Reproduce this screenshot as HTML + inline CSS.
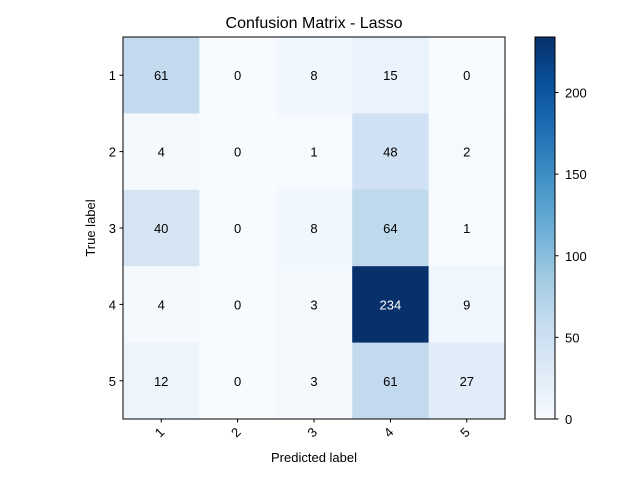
<!DOCTYPE html>
<html><head><meta charset="utf-8">
<style>
body{margin:0;background:#fff;}
svg text{font-family:"Liberation Sans","DejaVu Sans",sans-serif;}
</style></head>
<body>
<svg id="chart" width="640" height="480" xmlns="http://www.w3.org/2000/svg">
<defs>
<linearGradient id="blues" x1="0" y1="1" x2="0" y2="0">
<stop offset="0" stop-color="#f7fbff"/><stop offset="0.125" stop-color="#deebf7"/>
<stop offset="0.25" stop-color="#c6dbef"/><stop offset="0.375" stop-color="#9ecae1"/>
<stop offset="0.5" stop-color="#6baed6"/><stop offset="0.625" stop-color="#4292c6"/>
<stop offset="0.75" stop-color="#2171b5"/><stop offset="0.875" stop-color="#08519c"/>
<stop offset="1" stop-color="#08306b"/>
</linearGradient>
</defs>
<text x="314" y="28" font-size="16" text-anchor="middle">Confusion Matrix - Lasso</text>
<g id="cells"></g>
<rect x="123" y="37" width="382" height="382" fill="none" stroke="#000" stroke-width="1"/>
<g id="axes"></g>
<text x="314" y="462" font-size="13" text-anchor="middle">Predicted label</text>
<text x="95" y="228" font-size="13" text-anchor="middle" transform="rotate(-90 95 228)">True label</text>
<rect x="535" y="37" width="20" height="382" fill="url(#blues)" stroke="#000" stroke-width="1"/>
<g id="cbar"></g>
</svg>
<script>
const labels = ["1","2","3","4","5"];
const matrix = [
 [61,0,8,15,0],
 [4,0,1,48,2],
 [40,0,8,64,1],
 [4,0,3,234,9],
 [12,0,3,61,27]
];
const cbarTicks = [0,50,100,150,200];
const NS="http://www.w3.org/2000/svg";
const X0=123,Y0=37,W=382,H=382;
const n=labels.length, cw=W/n, ch=H/n;
const vmax=Math.max(...matrix.flat()), vmin=Math.min(...matrix.flat());
const stops=["#f7fbff","#deebf7","#c6dbef","#9ecae1","#6baed6","#4292c6","#2171b5","#08519c","#08306b"].map(h=>[1,3,5].map(i=>parseInt(h.substr(i,2),16)));
function cmap(v){let t=(v-vmin)/(vmax-vmin)*8;let i=Math.min(7,Math.floor(t));let f=t-i;
 const c=stops[i].map((a,k)=>Math.round(a+(stops[i+1][k]-a)*f));return `rgb(${c})`;}
function xs(j){return X0+j*cw;} function ys(i){return Y0+i*ch;}
function mk(tag,attrs,parent){const e=document.createElementNS(NS,tag);for(const k in attrs)e.setAttribute(k,attrs[k]);parent.appendChild(e);return e;}
const cells=document.getElementById('cells');
matrix.forEach((row,i)=>row.forEach((v,j)=>{
 const r=mk('rect',{x:xs(j),y:ys(i),width:cw+0.5,height:ch+0.5,fill:cmap(v)},cells);
 
 
 const t=mk('text',{x:xs(j)+cw/2,y:ys(i)+ch/2+5,'font-size':13,'text-anchor':'middle',fill:v>(vmax/2)?'#fff':'#000'},cells);
 t.textContent=v;
 
 
}));
const axes=document.getElementById('axes');
labels.forEach((l,k)=>{
 const cy=ys(k)+ch/2, cx=xs(k)+cw/2;
 mk('line',{x1:X0-3.5,x2:X0,y1:cy,y2:cy,stroke:'#000'},axes);
 const ty=mk('text',{x:X0-7,y:cy+5,'font-size':13,'text-anchor':'end'},axes);
 ty.textContent=l;
 
 
 mk('line',{x1:cx,x2:cx,y1:Y0+H,y2:Y0+H+3.5,stroke:'#000'},axes);
 const tx=mk('text',{x:cx+4,y:Y0+H+14,'font-size':13,'text-anchor':'end',transform:`rotate(-45 ${cx+4} ${Y0+H+14})`},axes);
 tx.textContent=l;
 
 
});
const cb=document.getElementById('cbar');
cbarTicks.forEach(v=>{
 const y=Y0+H-(v-vmin)/(vmax-vmin)*H;
 mk('line',{x1:555,x2:558.5,y1:y,y2:y,stroke:'#000'},cb);
 const t=mk('text',{x:565,y:y+5,'font-size':13},cb);
 t.textContent=v;
 
 
});
</script>
</body></html>
